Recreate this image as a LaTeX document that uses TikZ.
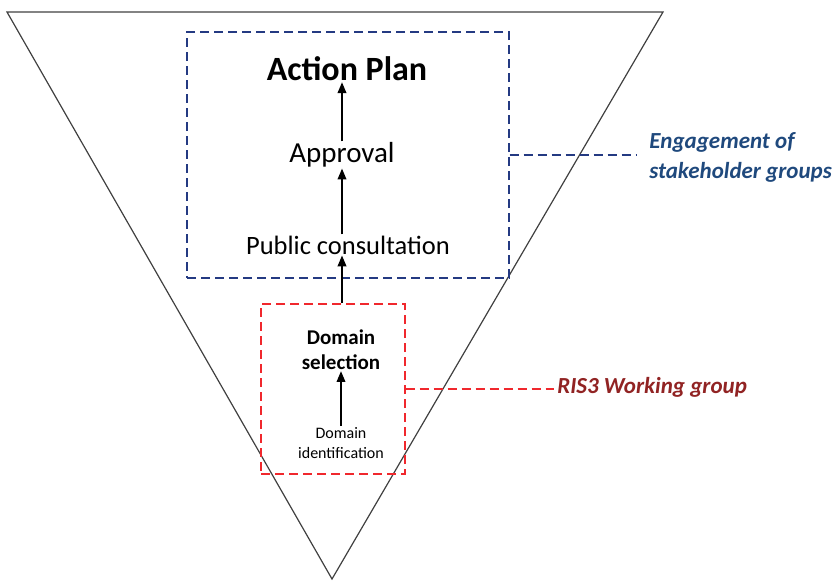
\documentclass[tikz,border=0pt]{standalone}
\usepackage{fontspec}
\setmainfont{Carlito}
\usetikzlibrary{arrows}
\usetikzlibrary{positioning}
\usetikzlibrary{calc}
\definecolor{boxblue}{RGB}{36,58,130}
\definecolor{textblue}{RGB}{31,73,125}
\definecolor{boxred}{RGB}{240,40,45}
\definecolor{textred}{RGB}{145,35,35}

\begin{document}
\begin{tikzpicture}[->,>=triangle 45,x=1pt,y=-1pt,semithick]
\tikzstyle{stage} = [inner sep=1pt, align=center, text=black]
\tikzstyle{groupbox} = [draw, rectangle, dash pattern=on 9pt off 5pt, line width=1.4pt]
\tikzstyle{grouplabel} = [inner sep=1pt, align=left, anchor=west, font=\bfseries\itshape\fontsize{23}{30}\selectfont]
\tikzstyle{stagearrow} = [line width=1.5pt]

\useasboundingbox (0,0) rectangle (835,581);

% funnel
\coordinate (TOPLEFT) at (7,12);
\coordinate (TOPRIGHT) at (663,12);
\coordinate (BOTTOM) at (332,579);
\draw[-,line width=1.2pt,black!75] (TOPLEFT) -- (TOPRIGHT) -- (BOTTOM) -- cycle;

% groups
\node[groupbox, draw=boxblue, minimum width=322pt, minimum height=246pt] (STAKEBOX) at (348,155) {};
\node[groupbox, draw=boxred, minimum width=144pt, minimum height=170pt] (WORKBOX) at (333,389) {};

% stages
\node[stage, font=\bfseries\fontsize{34}{38}\selectfont] (ACTIONPLAN) at (347,69) {Action Plan};
\node[stage, font=\fontsize{29}{32}\selectfont] (APPROVAL) at (342,155) {Approval};
\node[stage, font=\fontsize{26.5}{30}\selectfont] (PUBCONSULT) at (348,245) {Public consultation};
\node[stage, font=\bfseries\fontsize{21}{25}\selectfont] (DOMSELECT) at (341,350) {Domain\\selection};
\node[stage, font=\fontsize{16}{20}\selectfont] (DOMIDENT) at (341,443) {Domain\\identification};

% labels
\node[grouplabel, text=textblue] (STAKELABEL) at (648,157) {Engagement of\\stakeholder groups};
\node[grouplabel, text=textred] (WORKLABEL) at (556,387) {RIS3 Working group};

\path[draw,->,stagearrow] (APPROVAL.north) -- (APPROVAL.north |- ACTIONPLAN.south);
\path[draw,->,stagearrow] (PUBCONSULT.north -| APPROVAL) -- (APPROVAL.south);
\path[draw,->,stagearrow] (WORKBOX.north -| APPROVAL) -- (PUBCONSULT.south -| APPROVAL);
\path[draw,->,stagearrow] (DOMIDENT) -- (DOMSELECT);

\path[draw,-,boxblue,line width=1.4pt,dash pattern=on 9pt off 5pt] (STAKEBOX.east) -- ([xshift=-12pt]STAKEBOX.east -| STAKELABEL.west);
\path[draw,-,boxred,line width=1.4pt,dash pattern=on 9pt off 5pt] (WORKBOX.east) -- ([xshift=-2pt]WORKBOX.east -| WORKLABEL.west);
\end{tikzpicture}
\end{document}
